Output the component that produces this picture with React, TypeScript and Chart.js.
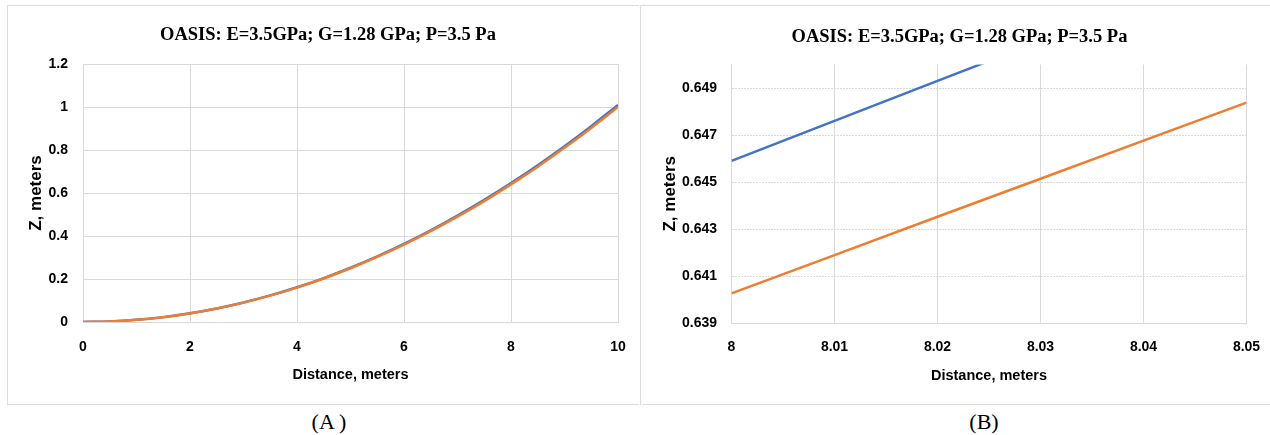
import React, { useEffect, useRef } from 'react';
import { Chart, registerables } from 'chart.js';

Chart.register(...registerables);

const chartTitle = 'OASIS: E=3.5GPa; G=1.28 GPa; P=3.5 Pa';
const xAxisTitle = 'Distance, meters';
const yAxisTitle = 'Z, meters';
const seriesNames = ['Series 1', 'Series 2'];
const captions = ['(A )', '(B)'];

// Panel A (full range)
const distanceA = [0, 0.5, 1, 1.5, 2, 2.5, 3, 3.5, 4, 4.5, 5, 5.5, 6, 6.5, 7, 7.5, 8, 8.5, 9, 9.5, 10];
const zBlueA = [0, 0.0025, 0.0101, 0.0227, 0.0404, 0.0631, 0.0909, 0.1237, 0.1615, 0.2044, 0.2523, 0.3053, 0.3634, 0.4265, 0.4946, 0.5678, 0.646, 0.7293, 0.8176, 0.911, 1.0094];
const zOrangeA = [0, 0.0025, 0.01, 0.0225, 0.04, 0.0625, 0.09, 0.1225, 0.16, 0.2025, 0.25, 0.3025, 0.36, 0.4225, 0.49, 0.5625, 0.64, 0.7225, 0.81, 0.9025, 1.0];
const xTicksA = [0, 2, 4, 6, 8, 10];
const xTickLabelsA = ['0', '2', '4', '6', '8', '10'];
const yTicksA = [0, 0.2, 0.4, 0.6, 0.8, 1, 1.2];
const yTickLabelsA = ['0', '0.2', '0.4', '0.6', '0.8', '1', '1.2'];

// Panel B (zoomed)
const distanceBlueB = [8, 8.01, 8.02, 8.03];
const zBlueB = [0.6459, 0.6476, 0.6493, 0.651];
const distanceOrangeB = [8, 8.01, 8.02, 8.03, 8.04, 8.05];
const zOrangeB = [0.64026, 0.64189, 0.64352, 0.64514, 0.64676, 0.64838];
const xTicksB = [8, 8.01, 8.02, 8.03, 8.04, 8.05];
const xTickLabelsB = ['8', '8.01', '8.02', '8.03', '8.04', '8.05'];
const yTicksB = [0.639, 0.641, 0.643, 0.645, 0.647, 0.649];
const yTickLabelsB = ['0.639', '0.641', '0.643', '0.645', '0.647', '0.649'];

const BLUE = '#4472C4';
const ORANGE = '#ED7D31';
const GRID = '#d9d9d9';
const SANS = "'Liberation Sans', Arial, sans-serif";
const SERIF = "'Liberation Serif', 'Times New Roman', serif";

const titlePlugin = {
  id: 'panelTitle',
  afterDraw(chart: any, _args: any, opts: any) {
    const ctx = chart.ctx;
    ctx.save();
    ctx.font = `bold ${opts.size}px ${SERIF}`;
    ctx.fillStyle = '#000';
    ctx.textAlign = 'center';
    ctx.textBaseline = 'middle';
    ctx.fillText(opts.text, opts.x, opts.y);
    ctx.restore();
  },
};

function pts(xs: number[], ys: number[]) {
  return xs.map((x, i) => ({ x, y: ys[i] }));
}

type PanelCfg = {
  width: number;
  height: number;
  blueX: number[];
  blueY: number[];
  orangeX: number[];
  orangeY: number[];
  xMin: number;
  xMax: number;
  yMin: number;
  yMax: number;
  xTicks: number[];
  xLabels: string[];
  yTicks: number[];
  yLabels: string[];
  left: number;
  right: number;
  top: number;
  bottom: number;
  yTitleCenter: number;
  yTickPad: number;
  xTickPad: number;
  xTitleCenter: number;
  titleX: number;
  titleY: number;
  hDash: number[];
  smooth: boolean;
};

const Y_TITLE_SIZE = 17;
const X_TITLE_SIZE = 14.5;

function makeConfig(c: PanelCfg): any {
  const interp = c.smooth ? { cubicInterpolationMode: 'monotone' } : { tension: 0 };
  return {
    type: 'line',
    data: {
      datasets: [
        {
          label: seriesNames[1],
          data: pts(c.orangeX, c.orangeY),
          borderColor: ORANGE,
          backgroundColor: ORANGE,
          borderWidth: 2.5,
          pointRadius: 0,
          clip: 0,
          ...interp,
        },
        {
          label: seriesNames[0],
          data: pts(c.blueX, c.blueY),
          borderColor: BLUE,
          backgroundColor: BLUE,
          borderWidth: 2.5,
          pointRadius: 0,
          clip: 0,
          ...interp,
        },
      ],
    },
    options: {
      responsive: false,
      animation: false,
      devicePixelRatio: 1,
      layout: { padding: { left: 0, right: c.right, top: c.top, bottom: 0 } },
      plugins: {
        legend: { display: false },
        tooltip: { enabled: false },
        title: { display: false },
        panelTitle: { text: chartTitle, x: c.titleX, y: c.titleY, size: 18.5 },
      },
      scales: {
        x: {
          type: 'linear',
          min: c.xMin,
          max: c.xMax,
          afterBuildTicks: (s: any) => {
            s.ticks = c.xTicks.map((v) => ({ value: v }));
          },
          afterFit: (s: any) => {
            s.height = c.height - c.bottom;
            s.paddingLeft = 0;
            s.paddingRight = 0;
          },
          ticks: {
            autoSkip: false,
            maxRotation: 0,
            padding: c.xTickPad,
            color: '#000',
            font: { family: SANS, size: 14, weight: 'bold' },
            callback: (_v: any, i: number) => c.xLabels[i],
          },
          grid: { color: GRID, lineWidth: 1, drawTicks: false },
          border: { display: true, color: GRID, width: 1 },
          title: {
            display: true,
            text: xAxisTitle,
            color: '#000',
            font: { family: SANS, size: X_TITLE_SIZE, weight: 'bold' },
            padding: { top: 0, bottom: c.height - c.xTitleCenter - (X_TITLE_SIZE * 1.2) / 2 },
          },
        },
        y: {
          type: 'linear',
          min: c.yMin,
          max: c.yMax,
          afterBuildTicks: (s: any) => {
            s.ticks = c.yTicks.map((v) => ({ value: v }));
          },
          afterFit: (s: any) => {
            s.width = c.left;
            s.paddingTop = 0;
            s.paddingBottom = 0;
          },
          ticks: {
            autoSkip: false,
            padding: c.yTickPad,
            color: '#000',
            font: { family: SANS, size: 14, weight: 'bold' },
            callback: (_v: any, i: number) => c.yLabels[i],
          },
          grid: { color: GRID, lineWidth: 1, drawTicks: false },
          border: { display: true, color: GRID, width: 1, dash: c.hDash },
          title: {
            display: true,
            text: yAxisTitle,
            color: '#000',
            font: { family: SANS, size: Y_TITLE_SIZE, weight: 'bold' },
            padding: { top: c.yTitleCenter - (Y_TITLE_SIZE * 1.2) / 2, bottom: 0 },
          },
        },
      },
    },
    plugins: [titlePlugin],
  };
}

const panelA: PanelCfg = {
  width: 632,
  height: 399,
  blueX: distanceA,
  blueY: zBlueA,
  orangeX: distanceA,
  orangeY: zOrangeA,
  xMin: 0,
  xMax: 10,
  yMin: 0,
  yMax: 1.2,
  xTicks: xTicksA,
  xLabels: xTickLabelsA,
  yTicks: yTicksA,
  yLabels: yTickLabelsA,
  left: 76,
  right: 21,
  top: 59,
  bottom: 317,
  yTitleCenter: 29,
  yTickPad: 15,
  xTickPad: 16.6,
  xTitleCenter: 370,
  titleX: 321,
  titleY: 30,
  hDash: [],
  smooth: true,
};

const panelB: PanelCfg = {
  width: 630,
  height: 399,
  blueX: distanceBlueB,
  blueY: zBlueB,
  orangeX: distanceOrangeB,
  orangeY: zOrangeB,
  xMin: 8,
  xMax: 8.05,
  yMin: 0.639,
  yMax: 0.65,
  xTicks: xTicksB,
  xLabels: xTickLabelsB,
  yTicks: yTicksB,
  yLabels: yTickLabelsB,
  left: 91.5,
  right: 23.5,
  top: 59.5,
  bottom: 318,
  yTitleCenter: 30,
  yTickPad: 14.5,
  xTickPad: 15.6,
  xTitleCenter: 371,
  titleX: 319.5,
  titleY: 32,
  hDash: [2, 1],
  smooth: false,
};

function Panel({ cfg, left, top }: { cfg: PanelCfg; left: number; top: number }) {
  const ref = useRef<HTMLCanvasElement | null>(null);
  useEffect(() => {
    if (!ref.current) return;
    const chart = new Chart(ref.current, makeConfig(cfg));
    return () => chart.destroy();
  }, [cfg]);
  return (
    <canvas
      ref={ref}
      width={cfg.width}
      height={cfg.height}
      style={{ position: 'absolute', left, top, width: cfg.width, height: cfg.height, display: 'block' }}
    />
  );
}

export default function App() {
  const line = (l: number, t: number, w: number, h: number) => (
    <div style={{ position: 'absolute', left: l, top: t, width: w, height: h, background: '#dcdcdc' }} />
  );
  const captionStyle = (left: number): React.CSSProperties => ({
    position: 'absolute',
    left,
    top: 407,
    width: 200,
    textAlign: 'center',
    fontFamily: SERIF,
    fontSize: 22,
    lineHeight: '30px',
    color: '#000',
  });
  return (
    <div style={{ position: 'absolute', left: 0, top: 0, width: 1270, height: 435, background: '#fff', overflow: 'hidden' }}>
      <Panel cfg={panelA} left={7} top={5} />
      <Panel cfg={panelB} left={640} top={5} />
      {line(7, 5, 632, 1)}
      {line(7, 404, 632, 1)}
      {line(7, 5, 1, 400)}
      {line(640, 5, 630, 1)}
      {line(643, 404, 627, 1)}
      {line(640, 5, 1, 400)}
      <div style={captionStyle(229)}>{captions[0]}</div>
      <div style={captionStyle(884)}>{captions[1]}</div>
    </div>
  );
}
